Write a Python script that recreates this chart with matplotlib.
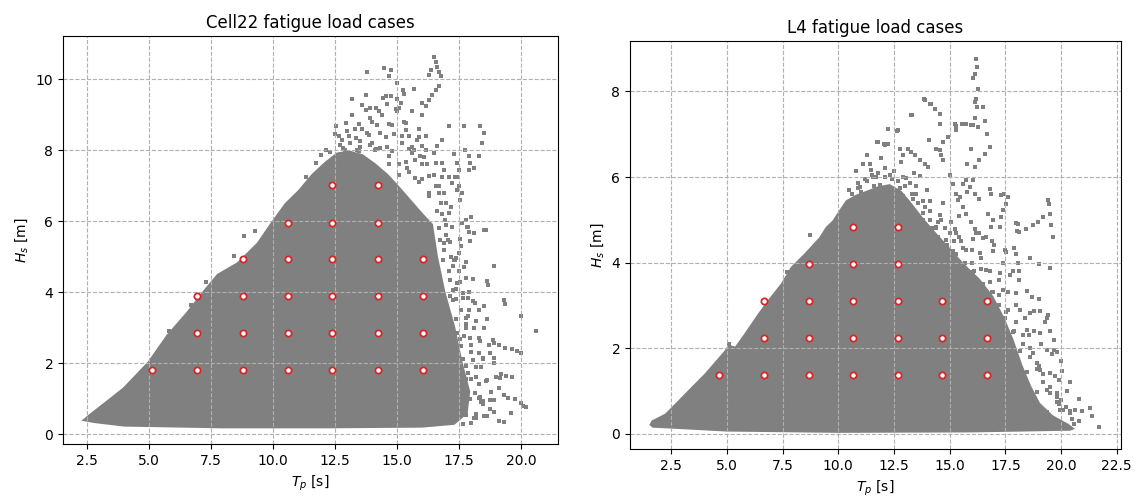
import matplotlib
matplotlib.use('Agg')
import matplotlib.pyplot as plt

# ---------------- Cell22 ----------------
# fatigue load cases (Tp, Hs)
cell22_case_tp = [5.14, 6.95, 8.78, 10.6, 12.37, 14.24, 16.05,
                  6.95, 8.78, 10.6, 12.37, 14.24, 16.05,
                  6.95, 8.78, 10.6, 12.37, 14.24, 16.05,
                  8.78, 10.6, 12.37, 14.24, 16.05,
                  10.6, 12.37, 14.24,
                  12.37, 14.24]
cell22_case_hs = [1.80] * 7 + [2.84] * 6 + [3.89] * 6 + [4.93] * 5 + [5.96] * 3 + [7.01] * 2

# outline of the dense part of the hindcast cloud
cell22_core_tp = [2.40, 2.64, 3.32, 3.99, 5.0, 5.75, 6.56, 7.23, 7.78, 8.59, 9.40, 9.99, 10.52,
                  11.06, 11.6, 12.14, 12.6, 13.1, 13.6, 14.1, 14.6, 15.0, 15.5, 16.0, 16.4,
                  16.6, 16.9, 17.3, 17.6, 17.9, 17.8, 17.3, 16.0, 12.0, 8.0, 4.0, 2.8]
cell22_core_hs = [0.40, 0.54, 0.91, 1.28, 2.02, 2.77, 3.42, 4.02, 4.48, 4.81, 5.37, 5.97, 6.48,
                  6.85, 7.3, 7.65, 7.9, 7.95, 7.85, 7.6, 7.3, 7.0, 6.6, 6.2, 5.9,
                  5.0, 4.0, 3.0, 2.0, 1.2, 0.6, 0.3, 0.22, 0.2, 0.2, 0.25, 0.35]

# sparse sea states outside the dense part
cell22_tp = [13.81, 14.48, 14.75, 14.68, 16.49, 16.56, 16.62, 16.69, 16.76, 16.38, 16.29,
             15.26, 15.69, 15.02, 13.17, 13.75, 14.42, 14.55, 14.75, 15.02, 15.15, 15.08,
             16.02, 16.16, 16.29, 16.40, 16.56, 16.69, 13.61, 14.15, 12.54, 13.08,
             17.09, 17.7, 18.36, 18.5, 18.43, 18.3, 18.1, 17.76, 17.9, 17.96, 17.9,
             17.43, 17.5, 17.43, 17.5, 17.63, 17.09, 17.23, 16.82, 16.89, 16.56, 16.69, 16.76,
             16.02, 16.16, 15.95, 15.62, 15.75, 15.35, 15.49, 17.63, 17.83, 17.9, 18.5,
             17.09, 16.96, 17.23, 11.94, 16.49, 16.62,
             20.63, 20.0, 19.34, 19.37, 18.9, 18.6, 18.68, 18.53, 18.16, 17.87, 17.65,
             18.9, 19.12, 19.37, 19.63, 19.85, 20.0, 18.75, 18.9, 19.19, 19.41, 19.63,
             19.48, 19.78, 20.0, 20.07, 20.22, 19.12, 19.34, 18.46, 18.75, 18.9,
             18.16, 18.31, 18.46, 18.0, 17.87, 17.8, 18.31, 18.46, 17.58, 17.72, 17.8, 17.87,
             17.43, 17.21, 17.13, 17.28, 17.43, 17.28, 17.35, 17.5, 17.58, 17.06,
             17.87, 17.8, 18.0, 18.09, 17.54, 17.43, 17.35, 17.65,
             12.8, 13.3, 13.9, 14.3, 14.8, 15.2, 13.5, 12.9, 14.0, 15.7, 15.4, 16.0, 16.3,
             14.4, 15.0, 13.8, 15.9,
             16.8, 17.0, 16.9, 17.2, 17.5, 17.8, 17.4, 17.9, 18.1, 18.3, 18.0, 18.4, 18.6,
             18.8, 18.5, 18.2, 18.9, 19.1, 17.7, 17.0, 16.7, 16.2, 15.8, 15.3, 14.6, 14.1,
             13.4, 12.5, 8.84, 9.29, 8.44, 6.69, 5.81, 7.29]
cell22_hs = [10.22, 10.31, 10.27, 10.08, 10.64, 10.5, 10.36, 10.22, 10.08, 10.27, 10.13,
             9.69, 9.73, 9.89, 9.45, 9.55, 9.47, 9.54, 9.54, 9.45, 9.33, 9.19,
             9.33, 9.24, 9.42, 9.56, 9.7, 9.8, 9.28, 9.19, 8.67, 8.39,
             8.67, 8.69, 8.67, 8.48, 8.2, 7.83, 7.5, 8.01, 7.83, 7.64, 7.45,
             7.64, 7.45, 7.26, 6.98, 6.79, 7.26, 7.07, 7.64, 7.45, 6.98, 6.79, 6.51,
             8.11, 8.39, 7.83, 7.92, 7.73, 8.58, 8.39, 5.95, 5.85, 5.71, 5.76,
             6.23, 6.04, 5.85, 7.87, 7.92, 8.11,
             2.90, 3.32, 3.79, 3.68, 4.73, 5.76, 4.21, 3.6, 3.7, 3.84, 3.98,
             2.57, 2.5, 2.43, 2.39, 2.34, 2.29, 2.29, 2.15, 1.69, 1.64, 1.61,
             1.03, 0.98, 0.89, 0.80, 0.75, 0.37, 0.33, 0.84, 0.7, 0.61,
             1.17, 1.03, 0.94, 1.54, 1.73, 1.92, 2.29, 2.11, 2.48, 2.76, 3.09, 3.32,
             2.86, 3.09, 3.89, 4.07, 4.26, 4.73, 4.92, 5.1, 5.29, 5.48,
             5.85, 6.04, 6.13, 5.66, 6.6, 6.88, 7.26, 0.28,
             8.3, 8.6, 8.9, 8.5, 8.7, 8.2, 8.1, 8.0, 8.2, 8.0, 7.5, 7.2, 6.8,
             9.0, 9.1, 8.5, 8.6,
             6.2, 5.9, 5.4, 5.0, 4.6, 4.4, 3.8, 3.5, 3.0, 2.7, 2.3, 1.9, 1.5,
             1.2, 0.5, 0.45, 0.95, 1.3, 1.0, 6.5, 7.0, 7.6, 8.3, 8.8, 8.1, 8.0,
             8.0, 7.75, 5.57, 5.73, 5.01, 3.64, 2.9, 4.29]

# denser fringe just outside the core (right flank and top)
cell22_fringe_tp = [16.72, 17.13, 17.53, 17.94, 16.85, 17.4, 17.8, 17.13, 17.53, 18.08, 18.62,
                    17.26, 17.67, 18.08, 17.4, 17.8, 18.21, 18.62, 17.53, 17.94, 18.35, 18.89,
                    17.67, 18.08, 18.48, 17.8, 18.21, 18.62, 19.16, 17.94, 18.35, 18.75,
                    17.8, 18.21, 18.62,
                    11.34, 15.08, 15.75, 16.29, 16.82, 11.74, 12.41, 14.68, 15.35, 16.02, 16.56,
                    12.14, 12.81, 13.48, 14.15, 14.82, 15.49, 16.16, 12.67, 13.34, 13.88, 14.55,
                    15.22, 15.89, 12.94, 13.48, 14.01, 14.68, 15.35, 13.75, 14.28, 14.95, 15.62,
                    12.3, 12.7, 13.1, 13.5, 13.9, 14.3, 14.7, 15.1, 15.5, 15.9, 16.3, 16.6,
                    12.5, 13.0, 13.6, 14.2, 14.9, 15.6, 16.1, 16.5, 16.9, 17.2,
                    13.2, 13.9, 14.6, 15.3, 16.0, 16.8, 17.3,
                    16.7, 16.9, 17.1, 17.4, 17.6, 17.8, 18.0, 18.2, 18.3, 18.4, 18.1,
                    17.0, 17.3, 17.7, 17.9, 18.3, 18.5, 18.7, 18.9, 19.0, 19.3, 19.6, 18.0]
cell22_fringe_hs = [5.46, 5.41, 5.5, 5.44, 4.9, 4.95, 4.86, 4.34, 4.3, 4.38, 4.32,
                    3.79, 3.83, 3.75, 3.23, 3.27, 3.2, 3.25, 2.67, 2.7, 2.63, 2.66,
                    2.12, 2.08, 2.15, 1.56, 1.6, 1.52, 1.57, 1.0, 1.04, 0.97,
                    0.54, 0.58, 0.5,
                    7.26, 7.3, 7.22, 7.27, 7.24, 7.64, 7.68, 7.6, 7.66, 7.62, 7.65,
                    8.01, 8.05, 7.98, 8.03, 7.99, 8.04, 8.0, 8.39, 8.35, 8.42, 8.37,
                    8.4, 8.36, 8.77, 8.73, 8.8, 8.75, 8.78, 9.14, 9.1, 9.17, 9.12,
                    7.95, 8.15, 8.2, 8.25, 8.15, 8.05, 7.85, 7.6, 7.4, 7.1, 6.7, 6.3,
                    8.45, 8.55, 8.6, 8.7, 8.45, 8.1, 7.8, 7.3, 6.8, 6.4,
                    9.0, 9.2, 9.3, 9.6, 9.0, 8.3, 7.9,
                    5.8, 5.2, 4.6, 4.1, 3.5, 3.0, 2.5, 1.9, 1.4, 0.9, 0.45,
                    5.6, 4.9, 4.7, 4.0, 3.5, 3.0, 2.5, 2.0, 1.6, 1.1, 0.6, 0.3]

# ---------------- L4 ----------------
l4_case_tp = [4.65, 6.67, 8.67, 10.67, 12.68, 14.68, 16.69,
              6.67, 8.67, 10.67, 12.68, 14.68, 16.69,
              6.67, 8.67, 10.67, 12.68, 14.68, 16.69,
              8.67, 10.67, 12.68,
              10.67, 12.68]
l4_case_hs = [1.37] * 7 + [2.24] * 6 + [3.11] * 6 + [3.97] * 3 + [4.84] * 2

l4_core_tp = [1.60, 1.67, 2.27, 2.86, 3.46, 4.05, 4.5, 4.95, 5.1, 5.4, 5.84, 6.44, 6.89, 7.48,
              7.93, 8.53, 9.2, 9.49, 9.79, 10.09, 10.39, 10.8, 11.3, 11.8, 12.3, 12.8, 13.2,
              13.8, 14.3, 15.0, 15.6, 16.3, 16.9, 17.4, 17.8, 18.2, 18.6, 19.0, 19.6, 20.3,
              20.5, 20.4, 16.0, 10.0, 5.0, 2.5, 1.7]
l4_core_hs = [0.21, 0.28, 0.44, 0.75, 1.07, 1.38, 1.65, 1.92, 2.04, 2.0, 2.32, 2.78, 3.1, 3.49,
              3.88, 4.19, 4.57, 4.81, 4.96, 5.2, 5.43, 5.55, 5.65, 5.75, 5.8, 5.65, 5.4,
              5.0, 4.7, 4.3, 3.95, 3.6, 3.2, 2.7, 2.2, 1.6, 1.1, 0.7, 0.4, 0.2,
              0.12, 0.1, 0.06, 0.05, 0.08, 0.15, 0.17]

l4_tp = [16.19, 16.22, 16.16, 16.07, 16.28, 16.19, 16.12, 16.22, 16.49,
         16.15, 16.07, 16.6, 16.69, 16.79, 16.6, 16.34, 16.16, 15.97, 15.78,
         15.25, 15.3, 15.75, 15.97, 14.93, 14.7, 14.55,
         13.88, 14.1, 14.33, 14.55, 13.31, 12.24, 12.69, 11.79, 12.09, 12.24,
         11.27, 11.42, 11.49, 10.79, 13.13, 13.28, 13.43, 13.66, 13.88, 14.03,
         12.76, 12.91, 14.06, 14.4, 14.63, 14.7, 15.0, 15.15, 15.3, 15.37,
         15.6, 15.75, 15.9, 16.04, 15.79, 16.12, 16.34, 16.79, 16.87,
         17.31, 17.46, 17.61, 17.54, 17.39, 17.31, 17.24,
         17.99, 18.13, 18.43, 18.73, 18.96, 19.18, 19.48, 19.4, 19.51, 19.55, 19.63,
         15.45, 15.6, 15.75, 15.97, 16.12, 16.34, 16.64, 15.07, 15.22, 15.3,
         14.1, 14.4, 16.87, 16.94, 16.72,
         21.29, 21.37, 21.69, 20.96, 20.64, 20.4, 20.56, 20.32, 19.83, 19.99, 20.24,
         19.91, 19.75, 19.59, 19.67, 19.02, 18.54, 18.78, 19.02, 19.43, 19.35,
         19.51, 19.02, 18.62, 18.05, 18.13, 17.97, 17.89, 18.02, 18.08,
         13.84, 14.17, 13.28, 12.23, 12.63, 11.74, 12.07, 14.57, 15.3, 15.54, 16.27,
         10.5, 10.9, 11.2, 11.5, 11.8, 12.1, 12.4, 12.7, 13.0, 13.3, 13.6, 11.0, 11.6,
         12.2, 12.9, 13.4, 13.8, 14.2, 14.5, 14.9, 15.3, 15.7, 16.1, 16.5, 16.9, 17.2,
         17.5, 17.9, 18.3, 18.6, 18.9, 19.2, 19.5, 19.9, 13.9, 14.6, 15.0, 15.5, 16.0,
         16.4, 16.8, 17.2, 17.6, 18.0, 18.4, 18.8, 19.1, 17.0, 17.4, 17.7,
         8.75, 7.7, 5.1]
l4_hs = [8.75, 8.57, 8.41, 8.32, 8.06, 7.83, 7.75, 7.63, 7.63,
         7.39, 7.21, 7.31, 7.01, 6.7, 6.54, 6.39, 6.23, 6.66, 6.3,
         7.25, 7.09, 7.25, 7.21, 6.93, 6.82, 6.62,
         7.81, 7.71, 7.6, 7.48, 7.46, 7.13, 7.09, 6.82, 6.76, 6.78,
         6.51, 6.31, 6.16, 6.14, 6.66, 6.58, 6.51, 6.39, 6.3, 6.23,
         6.66, 6.51, 6.86, 6.66, 6.51, 6.39, 6.04, 5.84, 5.61, 5.46,
         5.84, 5.92, 5.77, 5.92, 5.65, 5.61, 5.49, 5.73, 5.61,
         5.57, 5.61, 5.53, 5.38, 5.22, 5.07, 4.83,
         4.93, 4.72, 4.79, 4.87, 4.95, 5.07, 5.38, 5.46, 5.14, 4.87, 4.6,
         5.53, 5.3, 5.14, 4.95, 4.79, 4.68, 4.6, 4.95, 4.79, 4.68,
         4.99, 4.83, 4.83, 4.99, 5.14,
         0.61, 0.4, 0.16, 0.52, 0.56, 0.52, 0.22, 0.16, 0.75, 0.79, 0.63,
         1.26, 1.34, 1.85, 1.96, 1.57, 2.31, 2.86, 3.14, 2.78, 2.71,
         3.88, 3.96, 4.11, 4.0, 3.8, 4.19, 4.35, 4.74, 4.89,
         7.83, 7.71, 7.44, 7.12, 7.08, 6.81, 6.77, 7.24, 7.2, 7.24, 7.16,
         5.7, 5.85, 5.95, 6.05, 6.1, 6.0, 5.95, 5.9, 5.8, 5.6, 5.4, 5.65, 5.8,
         5.7, 5.55, 5.2, 5.0, 4.8, 4.6, 4.4, 4.2, 4.0, 3.8, 3.5, 3.3, 3.0,
         2.7, 2.4, 2.1, 1.8, 1.5, 1.2, 0.95, 0.7, 5.3, 5.0, 4.7, 4.5, 4.3,
         4.1, 3.8, 3.6, 3.3, 3.0, 2.7, 2.4, 2.1, 4.4, 4.0, 3.7,
         4.65, 3.79, 2.1]

l4_fringe_tp = [14.23, 14.84, 15.44, 16.04, 16.5, 15.14, 15.74, 16.35, 16.95, 17.55,
                16.04, 16.65, 17.25, 17.85, 16.95, 17.4, 18.0, 18.46, 17.55, 18.15, 18.61, 19.06,
                17.85, 18.46, 19.06, 19.51, 18.15, 18.76, 19.36, 19.81, 18.46, 19.06, 19.51, 20.04,
                18.91, 19.36, 19.81, 20.27, 19.36, 19.97, 20.42,
                13.06, 13.66, 14.4, 11.27, 12.16, 13.06, 13.81, 14.55, 10.67, 11.57, 12.46,
                13.36, 14.1, 10.97, 11.87, 12.76, 13.51, 11.57, 12.31, 13.06, 13.66,
                10.6, 10.9, 11.3, 11.7, 12.1, 12.5, 12.9, 13.2, 13.5, 13.8, 14.1, 14.5, 14.8,
                15.2, 15.6, 16.0, 16.4, 16.8, 17.2, 17.6, 18.0, 18.3, 18.6, 18.9, 19.2, 19.5,
                19.8, 20.1, 20.5, 20.8,
                11.1, 11.9, 12.8, 13.4, 14.0, 14.7, 15.4, 16.2, 16.9, 17.5, 18.1, 18.7, 19.3,
                19.7, 20.0, 20.4, 20.8]
l4_fringe_hs = [4.57, 4.53, 4.6, 4.55, 4.58, 4.26, 4.3, 4.22, 4.27, 4.24,
                3.79, 3.83, 3.76, 3.8, 3.32, 3.36, 3.29, 3.34, 2.85, 2.89, 2.82, 2.87,
                2.38, 2.42, 2.35, 2.4, 1.92, 1.88, 1.95, 1.9, 1.45, 1.49, 1.42, 1.47,
                0.98, 1.02, 0.95, 1.0, 0.51, 0.55, 0.48,
                4.83, 4.87, 4.8, 5.14, 5.18, 5.11, 5.16, 5.12, 5.46, 5.5, 5.43,
                5.48, 5.44, 5.77, 5.81, 5.74, 5.79, 6.0, 6.04, 5.97, 6.02,
                5.6, 5.75, 5.9, 6.0, 6.2, 6.15, 6.0, 5.85, 5.6, 5.45, 5.2, 4.95, 4.8,
                4.5, 4.35, 4.0, 3.85, 3.55, 3.25, 2.9, 2.6, 2.3, 2.0, 1.65, 1.4, 1.1,
                0.85, 0.55, 0.35, 0.3,
                6.3, 6.45, 6.35, 6.1, 5.7, 5.4, 5.1, 4.7, 4.5, 4.3, 3.6, 3.2, 2.6,
                2.2, 1.7, 1.2, 0.8]

CLOUD = 'gray'
CASE_EDGE = '#d62728'

fig = plt.figure(figsize=(11.37, 4.99), dpi=100)
ax1 = fig.add_axes([0.0554, 0.1102, 0.4354, 0.8176])
ax2 = fig.add_axes([0.5541, 0.1002, 0.4318, 0.8176])

panels = [
    (ax1, 'Cell22 fatigue load cases', cell22_core_tp, cell22_core_hs,
     cell22_tp + cell22_fringe_tp, cell22_hs + cell22_fringe_hs,
     cell22_case_tp, cell22_case_hs, (1.53, 21.5), (-0.28, 11.22),
     [2.5, 5.0, 7.5, 10.0, 12.5, 15.0, 17.5, 20.0], [0, 2, 4, 6, 8, 10]),
    (ax2, 'L4 fatigue load cases', l4_core_tp, l4_core_hs,
     l4_tp + l4_fringe_tp, l4_hs + l4_fringe_hs,
     l4_case_tp, l4_case_hs, (0.655, 22.69), (-0.36, 9.18),
     [2.5, 5.0, 7.5, 10.0, 12.5, 15.0, 17.5, 20.0, 22.5], [0, 2, 4, 6, 8]),
]

for ax, title, core_tp, core_hs, tp, hs, case_tp, case_hs, xlim, ylim, xt, yt in panels:
    # dense hindcast cloud + sparse points (below the grid, like a scatter)
    ax.fill(core_tp, core_hs, color=CLOUD, lw=2, ec=CLOUD, zorder=1)
    ax.scatter(tp, hs, s=6, marker='s', color=CLOUD, linewidths=0, zorder=1)
    # selected load cases
    ax.plot(case_tp, case_hs, 'o', ls='none', ms=4.5, mfc='white', mec=CASE_EDGE,
            mew=1.3, zorder=3)
    ax.set_xlim(xlim)
    ax.set_ylim(ylim)
    ax.set_xticks(xt)
    ax.set_yticks(yt)
    ax.grid(True, linestyle='--', color='#b0b0b0', linewidth=0.8)
    ax.set_xlabel('$T_p$ [s]')
    ax.set_ylabel('$H_s$ [m]')
    ax.set_title(title)

fig.savefig('out.png', dpi=100)
